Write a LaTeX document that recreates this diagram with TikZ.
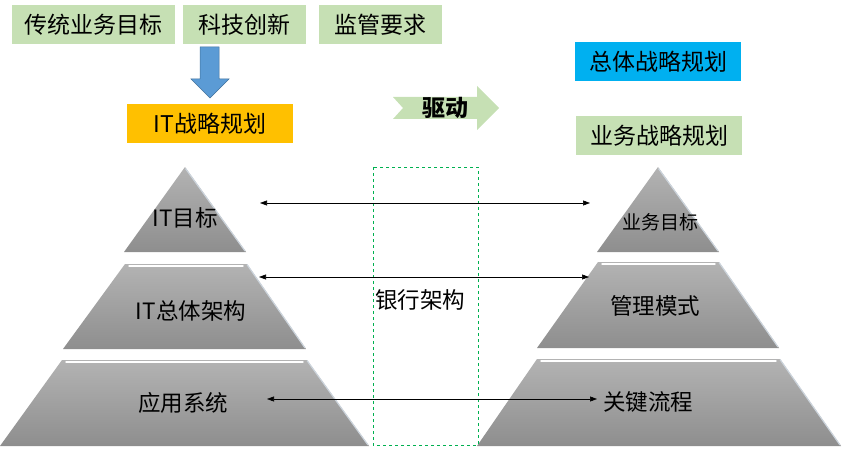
\documentclass[tikz,border=0pt]{standalone}
\usepackage{fontspec}
\setmainfont{Noto Sans CJK SC}
\usetikzlibrary{arrows.meta}
\definecolor{boxgreen}{HTML}{C6E0B4}
\definecolor{itgold}{HTML}{FFC000}
\definecolor{skyblue}{HTML}{00B0F0}
\definecolor{arrblue}{HTML}{5B9BD5}
\definecolor{arrbluedark}{HTML}{41719C}
\definecolor{shTop}{HTML}{B3B3B3}
\definecolor{shBot}{HTML}{8E8E8E}
\definecolor{bevel}{HTML}{CCD4DC}
\definecolor{dashgreen}{HTML}{00B050}
\tikzset{
  labelbox/.style={inner sep=0pt, minimum height=39pt, text=black, font=\fontsize{23}{23}\selectfont},
  layertext/.style={inner sep=0pt, text=black, font=\fontsize{22.5}{22.5}\selectfont},
  layer/.style={top color=shTop, bottom color=shBot},
  bevelline/.style={draw=bevel, line width=1.2pt},
  topshine/.style={draw=white, line width=1.4pt, line cap=round},
  link/.style={{Triangle[length=7pt,width=5pt]}-{Triangle[length=7pt,width=5pt]}, line width=0.6pt, black}
}
\begin{document}
\begin{tikzpicture}[x=1pt,y=-1pt]
\useasboundingbox (0,0) rectangle (843,449);
% top boxes
\node[labelbox, fill=boxgreen, minimum width=163pt] (trad) at (93.5,24.5) {传统业务目标};
\node[labelbox, fill=boxgreen, minimum width=123pt] (tech) at (244.5,24.5) {科技创新};
\node[labelbox, fill=boxgreen, minimum width=123pt] (reg) at (380.5,24.5) {监管要求};
% blue down arrow
\filldraw[fill=arrblue, draw=arrbluedark, line width=0.5pt]
  (200,47) -- (219,47) -- (219,79) -- (229,79) -- (210,98) -- (191,79) -- (200,79) -- cycle;
\node[labelbox, fill=itgold, minimum width=166pt] (itplan) at (210,123.5) {IT战略规划};
% right boxes
\node[labelbox, fill=skyblue, minimum width=166pt] (overall) at (658,61.5) {总体战略规划};
\node[labelbox, fill=boxgreen, minimum width=166pt] (bizplan) at (659,135.5) {业务战略规划};
% drive arrow
\fill[boxgreen] (393,97) -- (477,97) -- (477,86) -- (499,108) -- (477,130) -- (477,119) -- (393,119) -- (403,108) -- cycle;
\node[inner sep=0pt, font=\fontsize{23}{23}\selectfont\bfseries] (drive) at (445,108) {驱动};
% left pyramid
\shade[layer] (185,167) -- (246,252) -- (124,252) -- cycle;
\draw[bevelline] (185.5,168.5) -- (245,251);
\shade[layer] (125,264) -- (247,264) -- (306,349) -- (63,349) -- cycle;
\draw[topshine] (129,266) -- (243,266);
\draw[bevelline] (247,264.5) -- (305,348);
\shade[layer] (62,360) -- (307,360) -- (369,446) -- (0,446) -- cycle;
\draw[topshine] (66,362) -- (303,362);
\draw[bevelline] (307,360.5) -- (368,445);
% right pyramid
\shade[layer] (658,167) -- (719,252) -- (597,252) -- cycle;
\draw[bevelline] (658.5,168.5) -- (718,251);
\shade[layer] (598,262) -- (719,262) -- (779,348) -- (537,348) -- cycle;
\draw[topshine] (602,264) -- (715,264);
\draw[bevelline] (719,262.5) -- (778,347);
\shade[layer] (537,359) -- (780,359) -- (841,446) -- (477,446) -- cycle;
\draw[topshine] (541,361) -- (776,361);
\draw[bevelline] (780,359.5) -- (840,445);
% layer texts
\node[layertext] (itgoal) at (185,218) {IT目标};
\node[layertext] (itarch) at (191,311) {IT总体架构};
\node[layertext] (apps) at (183,403) {应用系统};
\node[layertext, font=\fontsize{19}{19}\selectfont] (bizgoal) at (660,222) {业务目标};
\node[layertext] (mgmt) at (655,306) {管理模式};
\node[layertext] (keyproc) at (648,402) {关键流程};
% bank architecture
\draw[dashgreen, dashed, line width=0.7pt] (373,167) rectangle (478,445);
\node[layertext] (bank) at (420,300) {银行架构};
% links
\coordinate (l1) at (260,203); \coordinate (r1) at (590,203);
\coordinate (l2) at (259,277); \coordinate (r2) at (589,277);
\coordinate (l3) at (267,399); \coordinate (r3) at (597,399);
\draw[link] (l1) -- (r1);
\draw[link] (l2) -- (r2);
\draw[link] (l3) -- (r3);
\end{tikzpicture}
\end{document}
